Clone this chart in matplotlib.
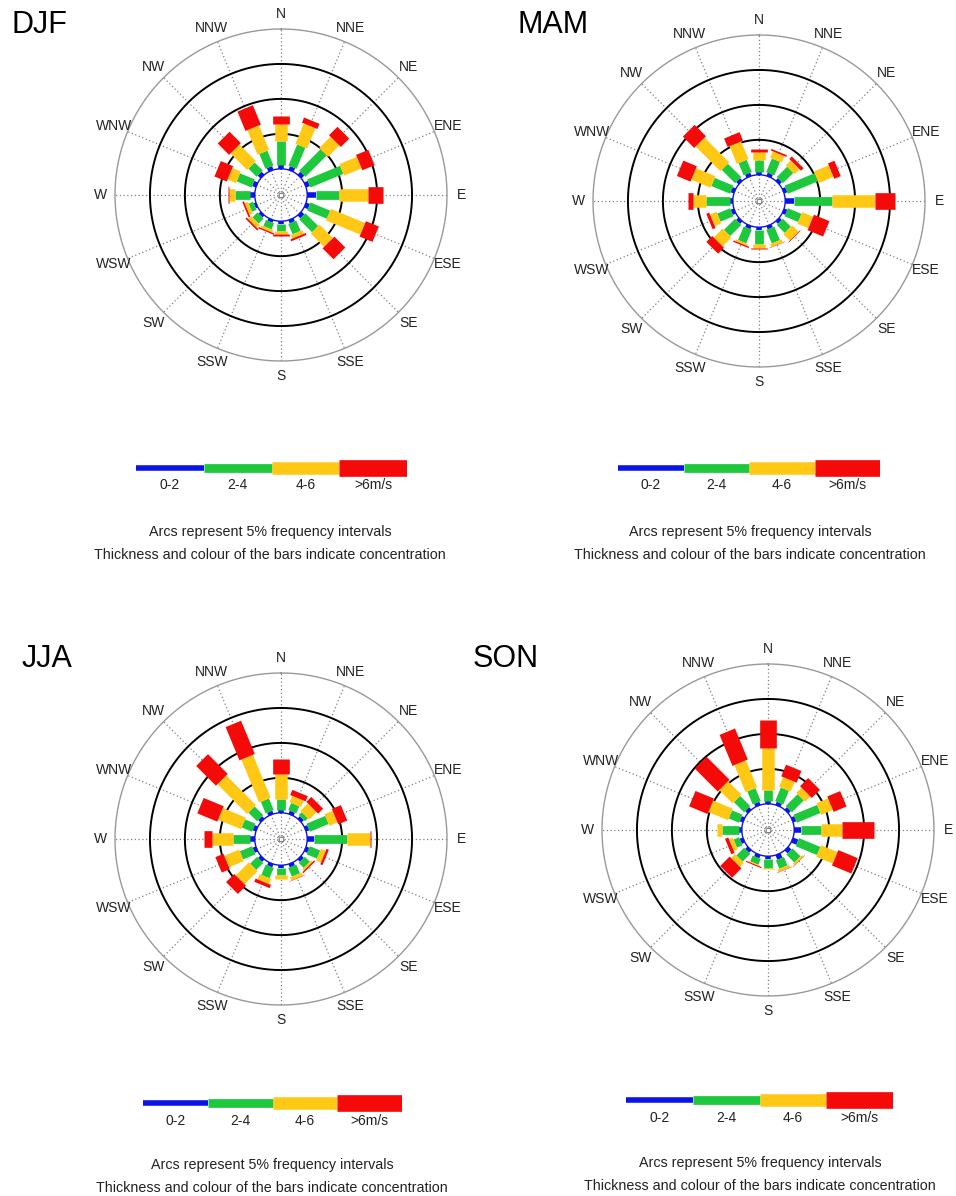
import numpy as np
import matplotlib
matplotlib.use('Agg')
import matplotlib.pyplot as plt

plt.rcParams['font.family'] = ['Liberation Sans', 'DejaVu Sans']

# compass sectors, clockwise from north
directions = ['N', 'NNE', 'NE', 'ENE', 'E', 'ESE', 'SE', 'SSE',
              'S', 'SSW', 'SW', 'WSW', 'W', 'WNW', 'NW', 'NNW']
speed_bins = ['0-2', '2-4', '4-6', '>6m/s']
bin_colors = ['#0a14e6', '#1ec83c', '#ffc814', '#f50a0a']
bin_widths = [4.0, 6.3, 9.0, 12.0]   # line widths (pt) of the bars

# frequency (%) of each speed class per direction
djf_0_2 = [0.56, 0.56, 0.56, 0.56, 1.2, 0.56, 0.56, 0.47, 0.38, 0.38, 0.4, 0.3, 0.7, 0.56, 0.56, 0.56]
djf_2_4 = [3.4, 3.25, 4.3, 5.1, 3.4, 3.05, 2.6, 1.6, 1.0, 0.94, 1.0, 0.7, 2.1, 2.3, 1.65, 2.3]
djf_4_6 = [2.5, 3.15, 2.3, 2.7, 4.1, 5.3, 2.7, 0.56, 0.5, 0.38, 0.6, 0.5, 0.95, 1.3, 3.35, 3.8]
djf_6p = [1.1, 0.8, 1.7, 1.9, 2.1, 2.0, 2.2, 0.3, 0.25, 0.2, 0.25, 0.25, 0.15, 1.9, 2.3, 3.0]

mam_0_2 = [0.47, 0.47, 0.47, 0.47, 1.2, 0.47, 0.47, 0.47, 0.47, 0.45, 0.47, 0.47, 0.47, 0.47, 0.47, 0.47]
mam_2_4 = [1.65, 2.1, 2.1, 4.65, 5.5, 2.1, 1.6, 2.1, 1.9, 2.1, 2.25, 2.0, 3.3, 2.9, 2.7, 1.9]
mam_4_6 = [1.2, 1.0, 1.0, 2.3, 6.2, 1.7, 1.3, 0.45, 0.55, 0.3, 1.8, 1.0, 1.9, 3.0, 5.0, 2.75]
mam_6p = [0.35, 0.25, 0.5, 1.0, 2.8, 2.4, 0.1, 0.05, 0.2, 0.2, 1.2, 0.45, 0.8, 2.1, 2.3, 1.3]

jja_0_2 = [0.47, 0.47, 0.47, 0.47, 0.94, 0.47, 0.47, 0.47, 0.47, 0.47, 0.47, 0.47, 0.7, 0.47, 0.47, 0.47]
jja_2_4 = [1.5, 1.1, 0.6, 2.9, 4.7, 1.6, 1.0, 1.35, 0.95, 1.6, 1.4, 1.9, 2.35, 1.6, 1.75, 1.8]
jja_4_6 = [3.6, 1.0, 1.5, 1.25, 3.3, 0.75, 0.3, 0.5, 0.55, 0.8, 2.65, 2.3, 3.05, 3.55, 6.0, 6.65]
jja_6p = [2.1, 0.8, 1.0, 1.4, 0.25, 0.35, 0.2, 0.05, 0.0, 0.5, 1.65, 1.25, 1.2, 3.1, 4.0, 5.15]

son_0_2 = [0.47, 0.47, 0.47, 0.47, 1.0, 0.8, 0.6, 0.7, 0.47, 0.47, 0.47, 0.47, 0.47, 0.47, 0.47, 0.47]
son_2_4 = [1.5, 2.1, 2.4, 3.65, 2.8, 3.3, 1.6, 1.3, 1.2, 0.9, 1.55, 0.85, 2.35, 1.6, 2.05, 2.0]
son_4_6 = [6.0, 1.5, 1.05, 1.8, 3.0, 2.55, 0.3, 0.4, 0.2, 0.15, 0.8, 0.6, 0.7, 3.05, 2.7, 4.2]
son_6p = [4.0, 1.8, 1.65, 2.0, 4.6, 3.0, 0.05, 0.05, 0.0, 0.15, 1.9, 0.5, 0.05, 2.85, 4.65, 4.8]

seasons = ['DJF', 'MAM', 'JJA', 'SON']
season_data = {
    'DJF': [djf_0_2, djf_2_4, djf_4_6, djf_6p],
    'MAM': [mam_0_2, mam_2_4, mam_4_6, mam_6p],
    'JJA': [jja_0_2, jja_2_4, jja_4_6, jja_6p],
    'SON': [son_0_2, son_2_4, son_4_6, son_6p],
}

OFF = 3.75          # empty inner circle, in % units
RINGS = [5, 10, 15]
R_MAX = OFF + 20

W, H = 956, 1196
fig = plt.figure(figsize=(W / 100, H / 100), dpi=100)

# layout in pixels: rose centre, title pos, legend bar, note text centre
layout = {
    'DJF': dict(c=(281, 195), title=(12, 33), bar=(136, 407, 468), lab=485, note=(270, 532)),
    'MAM': dict(c=(759, 201), title=(518, 33), bar=(618, 880, 468), lab=485, note=(750, 532)),
    'JJA': dict(c=(281, 839), title=(22, 667), bar=(143, 402, 1103), lab=1121, note=(272, 1165)),
    'SON': dict(c=(768, 830), title=(473, 667), bar=(626, 893, 1100), lab=1118, note=(760, 1163)),
}
R_PX = 166

angles = np.deg2rad(np.arange(16) * 22.5)
circle = np.linspace(0, 2 * np.pi, 721)


def draw_rose(name):
    lay = layout[name]
    cx, cy = lay['c']
    ax = fig.add_axes([(cx - R_PX) / W, 1 - (cy + R_PX) / H, 2 * R_PX / W, 2 * R_PX / H],
                      projection='polar')
    ax.set_theta_zero_location('N')
    ax.set_theta_direction(-1)
    ax.set_ylim(0, R_MAX)
    ax.grid(False)
    ax.set_xticks([])
    ax.set_yticks([])
    ax.spines['polar'].set_visible(False)

    for th in angles:
        ax.plot([th, th], [0.4, R_MAX], color='#808080', lw=0.9, ls=(0, (1, 2)), zorder=1)
    ax.plot(circle, np.full_like(circle, R_MAX), color='#999999', lw=1.0, clip_on=False)
    for k in RINGS:
        ax.plot(circle, np.full_like(circle, OFF + k), color='black', lw=1.4, zorder=2)
    ax.plot(circle, np.full_like(circle, OFF), color=bin_colors[0], lw=1.0, zorder=2)
    ax.plot([0], [0], marker='s', ms=3.5, mfc='none', mec='#808080', mew=0.6)

    segs = season_data[name]
    for i, th in enumerate(angles):
        base = OFF
        for j in range(4):
            top = base + segs[j][i]
            if segs[j][i] > 0:
                ax.plot([th, th], [base, top], color=bin_colors[j], lw=bin_widths[j],
                        solid_capstyle='butt', zorder=3)
            base = top

    for th, d in zip(angles, directions):
        ax.text(th, R_MAX + 2.1, d, ha='center', va='center', fontsize=10, color='#222222')

    # title
    tx, ty = lay['title']
    fig.text(tx / W, 1 - ty / H, name, fontsize=22, ha='left', va='baseline')

    # speed-class key
    x0, x1, yb = lay['bar']
    lax = fig.add_axes([x0 / W, 1 - (lay['lab'] + 12) / H, (x1 - x0) / W, (lay['lab'] + 12 - yb + 15) / H])
    lax.set_xlim(0, 4)
    lax.set_ylim(lay['lab'] + 12, yb - 15)
    lax.axis('off')
    for j, lab in enumerate(speed_bins):
        lax.plot([j, j + 1], [yb, yb], color=bin_colors[j], lw=bin_widths[j], solid_capstyle='butt')
        lax.text(j + 0.5, lay['lab'], lab, ha='center', va='center', fontsize=10, color='#222222')

    nx, ny = lay['note']
    fig.text(nx / W, 1 - ny / H, 'Arcs represent 5% frequency intervals',
             ha='center', va='center', fontsize=10.3, color='#222222')
    fig.text(nx / W, 1 - (ny + 23) / H, 'Thickness and colour of the bars indicate concentration',
             ha='center', va='center', fontsize=10.3, color='#222222')


for s in seasons:
    draw_rose(s)

fig.savefig('out.png', dpi=100)
